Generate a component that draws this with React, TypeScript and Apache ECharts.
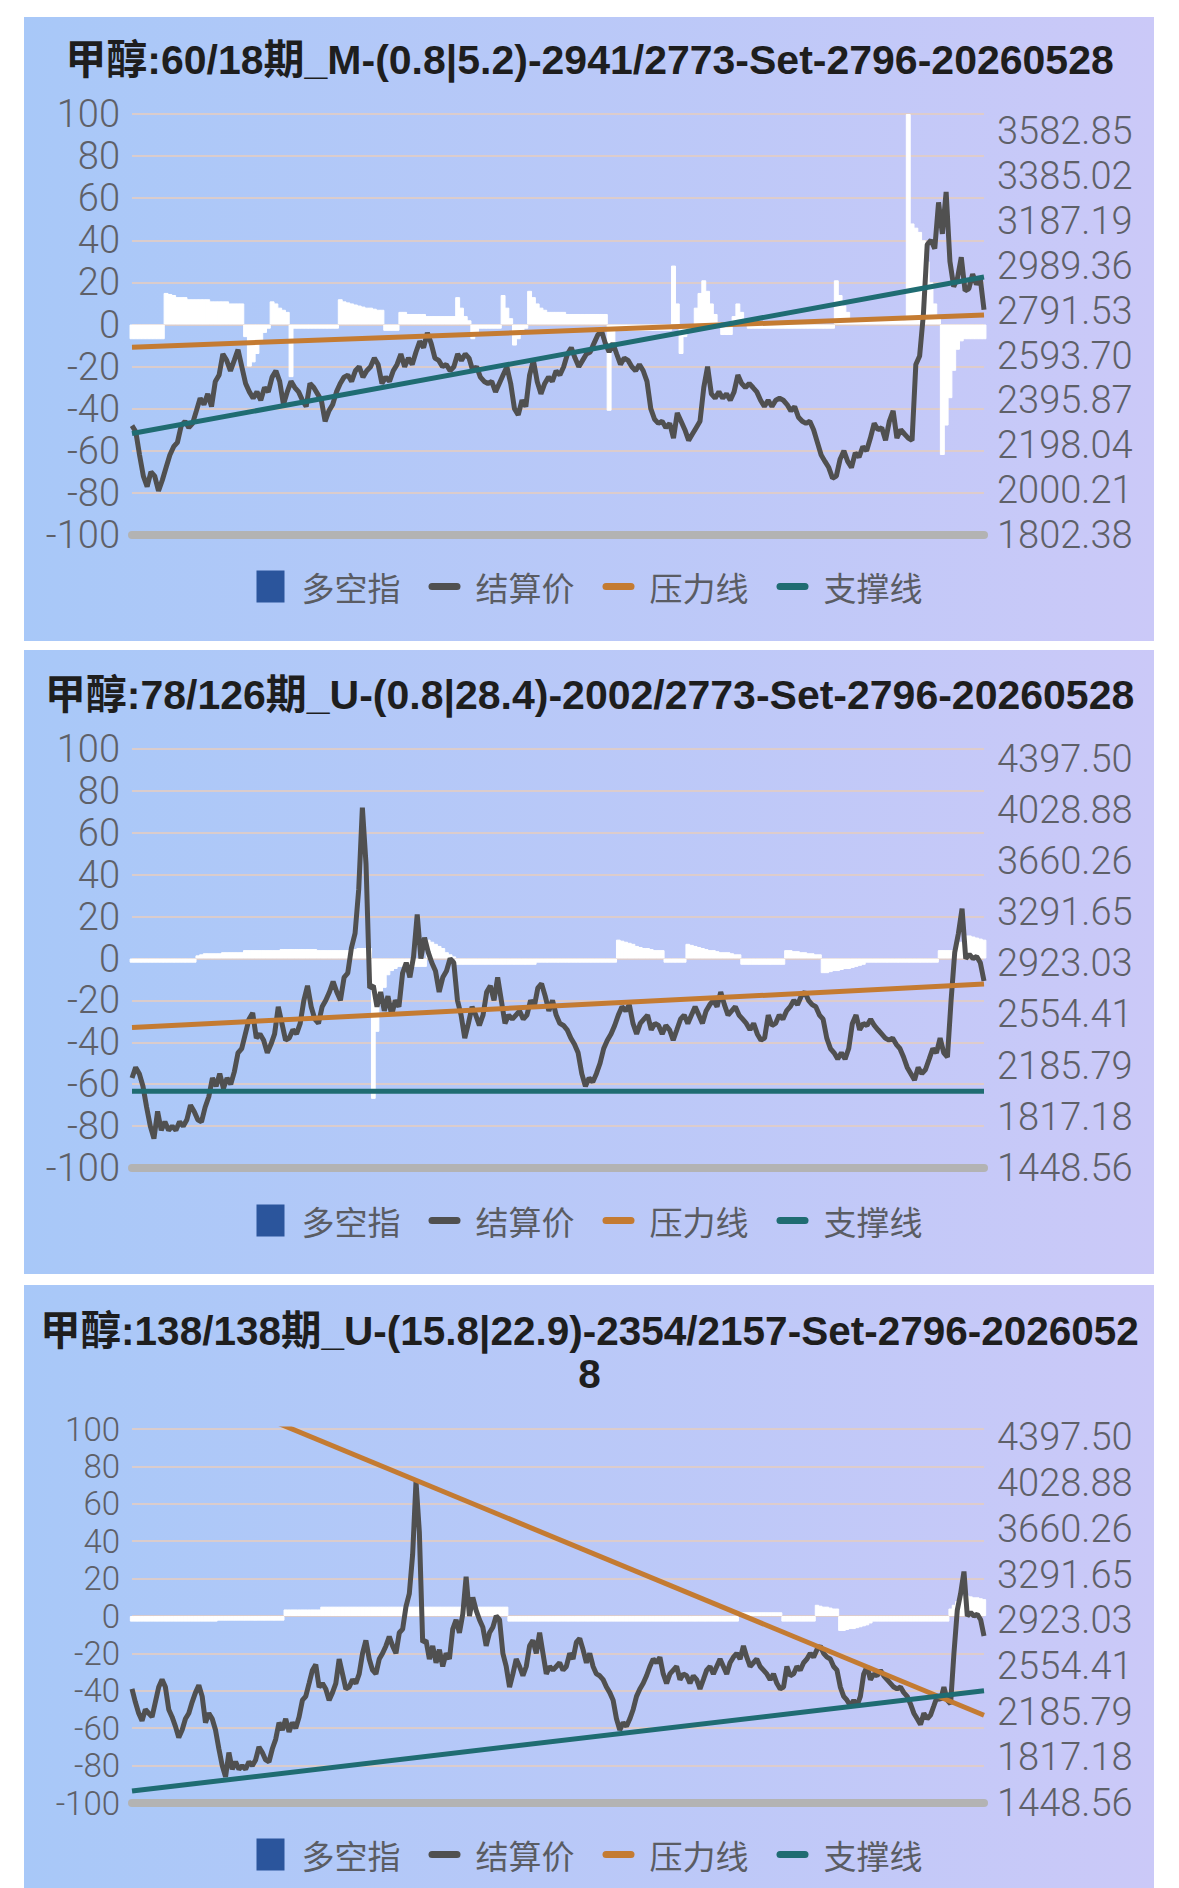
import React, { useEffect, useRef } from 'react';
import * as echarts from 'echarts';

// ---------- texts ----------
const TITLES = [
  '甲醇:60/18期_M-(0.8|5.2)-2941/2773-Set-2796-20260528',
  '甲醇:78/126期_U-(0.8|28.4)-2002/2773-Set-2796-20260528',
  '甲醇:138/138期_U-(15.8|22.9)-2354/2157-Set-2796-2026052\n8',
];
const NAMES = ['多空指', '结算价', '压力线', '支撑线'];

// right axis tick labels
const rightTicks1 = ['1802.38', '2000.21', '2198.04', '2395.87', '2593.70', '2791.53', '2989.36', '3187.19', '3385.02', '3582.85'];
const rightTicks23 = ['1448.56', '1817.18', '2185.79', '2554.41', '2923.03', '3291.65', '3660.26', '4028.88', '4397.50'];

// ---------- panel 1 data ----------
const price1 = [
  2285, 2258, 2155, 2062, 2016, 2081, 2062, 1997, 2044, 2100,
  2155, 2192, 2211, 2285, 2304, 2276, 2295, 2350, 2406, 2378,
  2425, 2369, 2480, 2508, 2601, 2573, 2527, 2573, 2620, 2545,
  2471, 2434, 2406, 2434, 2397, 2453, 2434, 2499, 2527, 2480,
  2378, 2434, 2480, 2453, 2434, 2397, 2369, 2471, 2453, 2425,
  2397, 2304, 2350, 2378, 2434, 2471, 2499, 2508, 2480, 2527,
  2545, 2499, 2527, 2545, 2583, 2555, 2471, 2499, 2480, 2527,
  2555, 2601, 2545, 2583, 2555, 2610, 2657, 2629, 2694, 2648,
  2583, 2573, 2545, 2555, 2527, 2545, 2601, 2573, 2601, 2583,
  2527, 2545, 2499, 2480, 2471, 2480, 2434, 2471, 2508, 2545,
  2471, 2360, 2332, 2397, 2369, 2508, 2573, 2480, 2425, 2471,
  2499, 2480, 2527, 2508, 2545, 2601, 2629, 2583, 2545, 2573,
  2601, 2610, 2648, 2685, 2703, 2648, 2610, 2648, 2601, 2555,
  2583, 2573, 2545, 2527, 2555, 2527, 2480, 2360, 2313, 2295,
  2304, 2276, 2295, 2230, 2341, 2304, 2267, 2220, 2248, 2276,
  2304, 2453, 2545, 2425, 2406, 2434, 2406, 2425, 2397, 2434,
  2508, 2471, 2453, 2471, 2453, 2434, 2397, 2369, 2397, 2369,
  2397, 2406, 2397, 2378, 2350, 2369, 2322, 2304, 2295, 2304,
  2267, 2211, 2155, 2127, 2100, 2053, 2062, 2137, 2174, 2127,
  2100, 2165, 2146, 2192, 2174, 2230, 2295, 2267, 2276, 2220,
  2304, 2350, 2230, 2267, 2248, 2230, 2220, 2555, 2592, 2777,
  3084, 3103, 3066, 3270, 3131, 3316, 3010, 2898, 2936, 3028,
  2880, 2889, 2954, 2908, 2936, 2796,
];
const bars1 = [
  -7, -7, -7, -7, -7, -7, -7, -7, -7, 15,
  14.5, 14, 13, 13, 13, 12, 12, 12, 12, 12,
  12, 11, 11, 11, 11, 11, 10, 10, 10, 10,
  -6, -20, -18, -14, -9, -4, -2, 11, 10, 8,
  7, 6, -25, -2, -2, -2, -2, -2, -2, -2,
  -2, -2, -2, -2, -2, 12, 11, 10.5, 10, 9.5,
  9, 8.5, 8, 8, 7.5, 7, 7, -3, -3, -3,
  -3, 6, 6, 5, 5, 5, 5, 5, 4, 4,
  4, 4, 4, 4, 4, 4, 13, 8, 4, 2,
  -7, -4, -2, -2, -2, -2, -2, -2, 14, 8,
  3, -10, -7, -4, -2, 16, 13, 10, 8, 7,
  6, 6, 6, 6, 6, 5, 5, 5, 5, 5,
  5, 5, 5, 5, 5, 5, -41, -10, -3, -3,
  -3, -3, -3, -3, -3, -3, -3, -3, -3, -3,
  -3, -3, -3, 28, 10, -14, -6, -2, 0, 8,
  15, 21, 16, 10, 5, 1, -5, -5, -5, 4,
  10, 6, 2, -2, -2, -2, -2, -2, -2, -2,
  -2, -2, -2, -2, -2, -2, -2, -2, -2, -2,
  -2, -2, -2, -2, -2, -2, 21, 14, 9, 6,
  3, 3, 3, 3, 3, 3, 3, 3, 3, 3,
  3, 3, 3, 3, 2, 100, 48, 46, 44, 40,
  30, 20, 10, 4, -62, -48, -35, -22, -12, -8,
  -7, -7, -7, -7, -7, -7,
];
const pressure1 = [2631, 2773];
const support1 = [2250, 2941];

// ---------- panels 2 & 3 data (panel 2 shows the latest part of the same prices) ----------
const price23 = [
  2369, 2263, 2173, 2112, 2203, 2173, 2143, 2263, 2384, 2444,
  2384, 2203, 2143, 2067, 1977, 2037, 2128, 2173, 2263, 2339,
  2399, 2309, 2097, 2173, 2128, 2037, 1886, 1750, 1660, 1856,
  1720, 1781, 1720, 1750, 1720, 1781, 1750, 1796, 1901, 1856,
  1796, 1781, 1886, 1962, 2097, 2037, 2128, 2022, 2097, 2052,
  2143, 2278, 2309, 2414, 2520, 2565, 2384, 2414, 2369, 2278,
  2339, 2414, 2610, 2490, 2369, 2384, 2444, 2414, 2490, 2656,
  2761, 2610, 2520, 2490, 2610, 2656, 2716, 2791, 2716, 2656,
  2822, 2852, 3033, 3138, 3455, 4044, 3636, 2746, 2761, 2610,
  2716, 2580, 2686, 2550, 2656, 2610, 2852, 2927, 2822, 2972,
  3274, 2957, 3108, 3003, 2927, 2867, 2716, 2822, 2867, 2957,
  2927, 2656, 2550, 2384, 2490, 2610, 2550, 2475, 2550, 2716,
  2761, 2656, 2822, 2656, 2490, 2550, 2520, 2550, 2580,
  2520, 2550, 2656, 2610, 2746, 2776, 2686, 2580, 2656, 2550,
  2490, 2475, 2444, 2384, 2339, 2278, 2128, 2037, 2097, 2067,
  2128, 2203, 2309, 2369, 2414, 2475, 2550, 2610, 2580, 2625,
  2490, 2414, 2490, 2520, 2550, 2444, 2490, 2475, 2414, 2475,
  2444, 2369, 2444, 2520, 2550, 2490, 2550, 2610, 2550, 2490,
  2580, 2625, 2656, 2610, 2716, 2625, 2550, 2580, 2610, 2550,
  2520, 2490, 2444, 2490, 2414, 2369, 2384, 2550, 2475, 2490,
  2550, 2520, 2580, 2610, 2656, 2625, 2686, 2716, 2656, 2625,
  2610, 2550, 2520, 2384, 2309, 2278, 2233, 2278, 2233, 2309,
  2490, 2550, 2444, 2490, 2475, 2520, 2475, 2444, 2414, 2384,
  2369, 2384, 2339, 2309, 2248, 2173, 2128, 2082, 2173, 2128,
  2158, 2233, 2309, 2278, 2384, 2278, 2248, 2656, 3003, 3138,
  3316, 2957, 2987, 2957, 2972, 2927, 2796,
];
const bars2 = [
  -2, -2, -2, -2, -2, -2, -2, -2, -2, -2,
  -2, -2, -2, -2, -2, -2, -2, -2, 1.5, 2,
  2.5, 2.5, 2.5, 2.5, 2.5, 3, 3, 3, 3, 3,
  3, 4, 4, 4, 4, 4, 4, 4, 4, 4,
  4, 4.5, 4.5, 4.5, 4.5, 4.5, 4.5, 4.5, 4.5, 4.5,
  4.5, 4, 4, 4, 4, 4, 4, 4, 4, 4,
  4.5, 4.5, 5, 5, 5, 5, -67, -35, -22, -14,
  -8, -6, -5, -4, -4, -4, -4, -4, -4, -4,
  -4, 9, 8, 7, 6, 5, 3, 2, 1, -3,
  -3, -3, -3, -3, -3, -3, -3, -3, -3, -3,
  -3, -3, -3, -3, -3, -3, -3, -3, -3, -3,
  -3, -2, -2, -2, -2, -2, -2, -2, -2, -2,
  -2, -2, -2, -2, -2, -2, -2, -2, -2, -2,
  -2, -2, -2, 9, 8.5, 8, 7.5, 7, 6, 5.5,
  5, 5, 4.5, 4, 4, 4, -2, -2, -2, -2,
  -2, -2, 7, 6.5, 6, 5.5, 5, 4.5, 4, 4,
  3.5, 3, 3, 3, 2.5, 2, 2, -3, -3, -3,
  -3, -3, -3, -3, -3, -3, -3, -3, -3, 4,
  4, 3.5, 3.5, 3, 3, 2.5, 2.5, 2, 2, -7,
  -7, -6.5, -6, -6, -5.5, -5, -5, -4.5, -4, -3.5,
  -3, -2, -2, -2, -2, -2, -2, -2, -2, -2,
  -2, -2, -2, -2, -2, -2, -2, -2, -2, -2,
  -2, 4, 4, 4, 4, 4, 8, 8, 11, 11,
  10.5, 10, 9.5, 9,
];
const pressure2 = [2460, 2773];
const support2 = [2002, 2002];

const bars3 = [
  -3, -3, -3, -3, -3, -3, -3, -3, -3, -3,
  -3, -3, -3, -3, -3, -3, -3, -3, -3, -3,
  -3, -3, -3, -3, -3, -3, -2.5, -2.5, -2.5, -2.5,
  -2.5, -2.5, -2.5, -2.5, -2.5, -2.5, -2.5, -2.5, -2.5, -2.5,
  -2.5, -2.5, -2.5, -2.5, -2.5, -2.5, 3.5, 3.5, 3.5, 3.5,
  3.5, 3.5, 3.5, 3.5, 3.5, 3.5, 3.5, 5, 5, 5,
  5, 5, 5, 5, 5, 5, 5, 5, 5, 5,
  5, 5, 5, 5, 5, 5, 5, 5, 5, 5,
  5, 5, 5, 5, 5, 5, 5, 5, 5, 5,
  5, 5, 5, 5, 5, 5, 5, 5, 5, 5,
  5, 5, 5, 5, 5, 5, 5, 5, 5, 5,
  5, 5, 5, -3, -3, -3, -3, -3, -3, -3,
  -3, -3, -3, -3, -3, -3, -3, -3, -3, -3,
  -3, -3, -3, -3, -3, -3, -3, -3, -3, -3,
  -3, -3, -3, -3, -3, -3, -3, -3, -3, -3,
  -3, -3, -3, -3, -3, -3, -3, -3, -3, -3,
  -3, -3, -3, -3, -3, -3, -3, -3, -3, -3,
  -3, -3, -3, -3, -3, -3, -3, -3, -3, -3,
  -3, -3, 2, 2, 2, 2, 2, 2, 2, 2,
  2, 2, 2, 2, 2, -3, -3, -3, -3, -3,
  -3, -3, -3, -3, -3, 6, 5.5, 5, 5, 4.5,
  4, 4, -8, -8, -7.5, -7, -7, -6.5, -6, -5.5,
  -5, -4, -3, -3, -3, -3, -3, -3, -3, -3,
  -3, -3, -3, -3, -3, -3, -3, -3, -3, -3,
  -3, -3, -3, -3, -3, 4, 6, 8, 10, 11,
  11, 10.5, 10, 10, 9.5, 9,
];
const pressure3 = [5000, 2157];
const support3 = [1545, 2354];

// ---------- colours ----------
const C_PRICE = '#505050';
const C_PRESS = '#C47B32';
const C_SUPP = '#1F6C72';
const C_BARICON = '#2B559C';

const ICON_SQ = 'path://M0,0H28V32H0Z';
const ICON_LINE = 'path://M3.5,0H28.5A3.5,3.5,0,0,1,28.5,7H3.5A3.5,3.5,0,0,1,3.5,0Z';

const LABEL_FONT = 'Roboto, "Liberation Sans", sans-serif';
const CJK_FONT = '"Noto Sans CJK SC", "Liberation Sans", sans-serif';
const TITLE_FONT = '"Liberation Sans", "Noto Sans CJK SC", sans-serif';

function trendData(pair: number[], n: number) {
  const d: (number | null)[] = new Array(n).fill(null);
  d[0] = pair[0];
  d[n - 1] = pair[1];
  return d;
}

type Panel = {
  bgY: number; bgH: number; titleTop: number; titleSize: number; gridTop: number; gridH: number; legendTop: number;
  leftSize: number; leftLH: number;
  rMin: number; rMax: number; rInt: number; ticks: string[];
  price: number[]; bars: number[]; press: number[]; supp: number[]; title: string;
};

function buildOption() {
  const panels: Panel[] = [
    { bgY: 17, bgH: 624, titleTop: 38, titleSize: 41, gridTop: 114, gridH: 421, legendTop: 570,
      leftSize: 38, leftLH: 34,
      rMin: 1802.38, rMax: 3660, rInt: 197.83, ticks: rightTicks1,
      price: price1, bars: bars1, press: pressure1, supp: support1, title: TITLES[0] },
    { bgY: 650, bgH: 624, titleTop: 673, titleSize: 41, gridTop: 749, gridH: 419, legendTop: 1204,
      leftSize: 38, leftLH: 34,
      rMin: 1448.56, rMax: 4466, rInt: 368.6175, ticks: rightTicks23,
      price: price23.slice(price23.length - bars2.length), bars: bars2, press: pressure2, supp: support2, title: TITLES[1] },
    { bgY: 1285, bgH: 603, titleTop: 1309, titleSize: 40.5, gridTop: 1429, gridH: 374, legendTop: 1838,
      leftSize: 33, leftLH: 30,
      rMin: 1448.56, rMax: 4466, rInt: 368.6175, ticks: rightTicks23,
      price: price23, bars: bars3, press: pressure3, supp: support3, title: TITLES[2] },
  ];

  const option: any = {
    animation: false,
    title: [], grid: [], xAxis: [], yAxis: [], series: [], legend: [],
    graphic: { elements: [] },
  };

  panels.forEach((p, k) => {
    const n = p.price.length;
    const cats = p.price.map((_, i) => String(i));
    option.graphic.elements.push({
      type: 'rect', z: -100, silent: true,
      shape: { x: 24, y: p.bgY, width: 1130, height: p.bgH },
      style: {
        fill: new echarts.graphic.LinearGradient(0, 0, 1, 0, [
          { offset: 0, color: '#A8C8F8' },
          { offset: 1, color: '#CBC9F8' },
        ]),
      },
    });
    option.title.push({
      text: p.title, left: 'center', top: p.titleTop, padding: 0,
      textStyle: { fontSize: p.titleSize, fontWeight: 'bold', color: '#1E1E1E', fontFamily: TITLE_FONT, lineHeight: 43 },
    });
    option.grid.push({ left: 132, width: 852, top: p.gridTop, height: p.gridH });
    option.xAxis.push({
      type: 'category', gridIndex: k, data: cats, boundaryGap: false,
      axisLine: { show: true, onZero: false, lineStyle: { color: '#B3B3B3', width: 8 } },
      axisTick: { show: false }, axisLabel: { show: false }, splitLine: { show: false },
    });
    option.yAxis.push({
      type: 'value', gridIndex: k, position: 'left', min: -100, max: 100, interval: 20,
      axisLine: { show: false }, axisTick: { show: false },
      axisLabel: {
        fontSize: p.leftSize, lineHeight: p.leftLH, color: '#5E6068', margin: 12, fontFamily: LABEL_FONT, fontWeight: 300,
        showMinLabel: true, showMaxLabel: true,
      },
      splitLine: { lineStyle: { color: 'rgba(226,204,196,0.85)', width: 2 } },
    });
    const ticks = p.ticks, rMin = p.rMin, rInt = p.rInt;
    option.yAxis.push({
      type: 'value', gridIndex: k, position: 'right', min: rMin, max: p.rMax, interval: rInt,
      axisLine: { show: false }, axisTick: { show: false }, splitLine: { show: false },
      axisLabel: {
        fontSize: 38, lineHeight: 34, color: '#5E6068', margin: 13, fontFamily: LABEL_FONT, fontWeight: 300,
        showMinLabel: true, showMaxLabel: false,
        formatter: (v: number) => {
          const idx = Math.round((v - rMin) / rInt);
          if (Math.abs(v - (rMin + idx * rInt)) > 0.5) return '';
          return ticks[idx] ?? '';
        },
      },
    });
    option.series.push({
      name: NAMES[0], type: 'bar', xAxisIndex: k, yAxisIndex: 2 * k, data: p.bars,
      barWidth: '130%', barGap: '-100%',
      itemStyle: { color: '#FFFFFF', borderColor: '#FFFFFF', borderWidth: 1 }, z: 2, silent: true,
    });
    option.series.push({
      name: NAMES[1], type: 'line', xAxisIndex: k, yAxisIndex: 2 * k + 1, data: p.price,
      symbol: 'none', lineStyle: { color: C_PRICE, width: 5 }, itemStyle: { color: C_PRICE }, z: 3,
    });
    option.series.push({
      name: NAMES[2], type: 'line', xAxisIndex: k, yAxisIndex: 2 * k + 1, data: trendData(p.press, n),
      connectNulls: true, symbol: 'none', lineStyle: { color: C_PRESS, width: 5 }, itemStyle: { color: C_PRESS }, z: 4,
    });
    option.series.push({
      name: NAMES[3], type: 'line', xAxisIndex: k, yAxisIndex: 2 * k + 1, data: trendData(p.supp, n),
      connectNulls: true, symbol: 'none', lineStyle: { color: C_SUPP, width: 5 }, itemStyle: { color: C_SUPP }, z: 4,
    });
    option.legend.push({
      top: p.legendTop, left: 'center', itemWidth: 32, itemHeight: 32, itemGap: 28, padding: 0,
      selectedMode: false,
      itemStyle: { borderWidth: 0 },
      textStyle: { fontSize: 33, color: '#5A5C63', fontFamily: CJK_FONT, padding: [0, 0, 0, 10] },
      data: [
        { name: NAMES[0], icon: ICON_SQ, itemStyle: { color: C_BARICON, borderWidth: 0 } },
        { name: NAMES[1], icon: ICON_LINE, itemStyle: { color: C_PRICE, borderWidth: 0 } },
        { name: NAMES[2], icon: ICON_LINE, itemStyle: { color: C_PRESS, borderWidth: 0 } },
        { name: NAMES[3], icon: ICON_LINE, itemStyle: { color: C_SUPP, borderWidth: 0 } },
      ],
    });
  });
  return option;
}

export default function App() {
  const ref = useRef<HTMLDivElement>(null);
  useEffect(() => {
    document.body.style.margin = '0';
    const chart = echarts.init(ref.current!, undefined, { renderer: 'svg' });
    chart.setOption(buildOption());
    return () => chart.dispose();
  }, []);
  return <div ref={ref} style={{ width: 1179, height: 1888, background: '#FFFFFF' }} />;
}
